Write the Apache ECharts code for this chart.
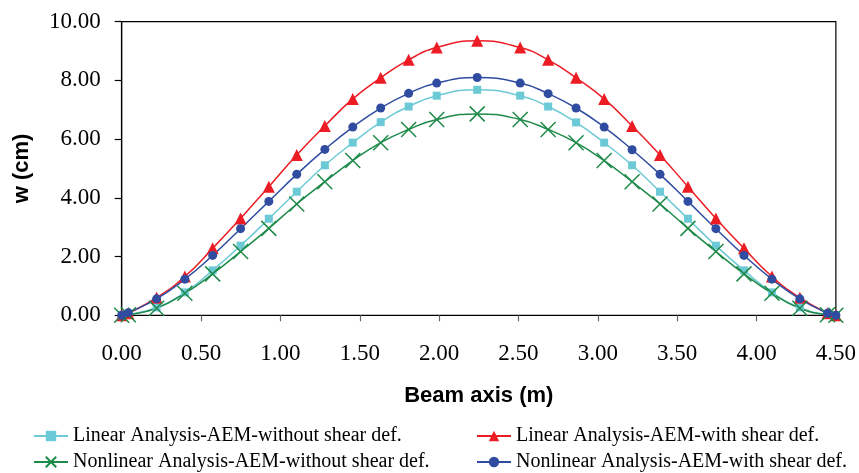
<!DOCTYPE html>
<html>
<head>
<meta charset="utf-8">
<script src="https://cdn.jsdelivr.net/npm/echarts@6/dist/echarts.min.js"></script>
<style>
html,body{margin:0;padding:0;background:#fff;}
#chart{width:859px;height:473px;}
</style>
</head>
<body>
<div id="chart"></div>
<script>
// Beam axis positions (m)
var beamX = [0, 0.042, 0.22, 0.398, 0.573, 0.749, 0.927, 1.103, 1.28, 1.456, 1.632, 1.808, 1.985, 2.24,
  2.511, 2.687, 2.863, 3.04, 3.216, 3.392, 3.568, 3.744, 3.921, 4.097, 4.273, 4.447, 4.5];

var linearWithout = [0, 0.02, 0.27, 0.78, 1.53, 2.37, 3.29, 4.21, 5.11, 5.88, 6.58, 7.11, 7.48, 7.68,
  7.48, 7.11, 6.57, 5.88, 5.11, 4.21, 3.29, 2.37, 1.53, 0.78, 0.27, 0.02, 0];
var linearWith = [0, 0.07, 0.60, 1.32, 2.28, 3.30, 4.38, 5.46, 6.45, 7.37, 8.09, 8.70, 9.12, 9.35,
  9.12, 8.70, 8.09, 7.37, 6.45, 5.46, 4.38, 3.30, 2.28, 1.32, 0.60, 0.07, 0];
var nonlinearWithout = [0, 0.02, 0.24, 0.75, 1.41, 2.17, 2.96, 3.79, 4.55, 5.27, 5.88, 6.33, 6.67, 6.86,
  6.67, 6.33, 5.88, 5.27, 4.55, 3.79, 2.96, 2.17, 1.41, 0.75, 0.24, 0.02, 0];
var nonlinearWith = [0, 0.09, 0.56, 1.23, 2.04, 2.95, 3.88, 4.80, 5.65, 6.41, 7.06, 7.56, 7.91, 8.10,
  7.91, 7.55, 7.06, 6.41, 5.64, 4.80, 3.88, 2.95, 2.04, 1.23, 0.56, 0.07, 0];

var seriesNames = [
  'Linear Analysis-AEM-without shear def.',
  'Linear Analysis-AEM-with shear def.',
  'Nonlinear Analysis-AEM-without shear def.',
  'Nonlinear Analysis-AEM-with shear def.'
];
var yTicks = [0, 2, 4, 6, 8, 10];
var xTicks = [0, 0.5, 1, 1.5, 2, 2.5, 3, 3.5, 4, 4.5];

function pairs(ys){ return beamX.map(function(x,i){ return [x, ys[i]]; }); }

var SERIF = "'Liberation Serif', 'Times New Roman', serif";
var SANS = "'Liberation Sans', Arial, sans-serif";
var cCyan = '#6CCAD6', cRed = '#EC1C24', cGreen = '#1E8A4A', cBlue = '#2F4CA0';
var xPath = 'path://M0,0L10,10M10,0L0,10';

var legendText = {fontFamily: SERIF, fontSize: 20, color: '#000'};
function legend(name, left, top){
  return {data: [name], left: left, top: top, itemWidth: 34, itemHeight: 13, itemGap: 0,
    padding: 0, textStyle: legendText, selectedMode: false};
}

var chart = echarts.init(document.getElementById('chart'));
chart.setOption({
  animation: false,
  backgroundColor: '#fff',
  grid: {left: 121.7, right: 23, top: 21.7, bottom: 157.7, show: true, borderColor: '#000', borderWidth: 1.2, backgroundColor: 'transparent'},
  xAxis: {
    type: 'value', min: 0, max: 4.5, interval: 0.5,
    name: 'Beam axis (m)', nameLocation: 'middle', nameGap: 70,
    nameTextStyle: {fontFamily: SANS, fontWeight: 'bold', fontSize: 22, color: '#000'},
    axisLine: {show: true, onZero: false, lineStyle: {color: '#000', width: 1.2}},
    axisTick: {show: true, length: 6, lineStyle: {color: '#666', width: 1.2}},
    axisLabel: {margin: 27, fontFamily: SERIF, fontSize: 23, color: '#000',
      formatter: function(v){ return v.toFixed(2); }},
    splitLine: {show: false}
  },
  yAxis: {
    type: 'value', min: 0, max: 10, interval: 2,
    name: 'w (cm)', nameLocation: 'middle', nameGap: 89,
    nameTextStyle: {fontFamily: SANS, fontWeight: 'bold', fontSize: 22, color: '#000'},
    axisLine: {show: true, lineStyle: {color: '#000', width: 1.2}},
    axisTick: {show: true, length: 7, lineStyle: {color: '#000', width: 1.2}},
    axisLabel: {margin: 21, fontFamily: SERIF, fontSize: 23, color: '#000',
      formatter: function(v){ return v.toFixed(2); }},
    splitLine: {show: false}
  },
  legend: [
    legend(seriesNames[0], 33, 426),
    legend(seriesNames[1], 476, 426),
    legend(seriesNames[2], 33, 452),
    legend(seriesNames[3], 476, 452)
  ],
  series: [
    {name: seriesNames[0], type: 'line', data: pairs(linearWithout), smooth: true,
     symbol: 'rect', symbolSize: 8, lineStyle: {color: cCyan, width: 1.5},
     itemStyle: {color: cCyan}},
    {name: seriesNames[1], type: 'line', data: pairs(linearWith), smooth: true,
     symbol: 'triangle', symbolSize: 12, lineStyle: {color: cRed, width: 1.5},
     itemStyle: {color: cRed}},
    {name: seriesNames[2], type: 'line', data: pairs(nonlinearWithout), smooth: true,
     symbol: xPath, symbolSize: 15, lineStyle: {color: cGreen, width: 1.5},
     itemStyle: {color: 'rgba(0,0,0,0)', borderColor: cGreen, borderWidth: 1.5}},
    {name: seriesNames[3], type: 'line', data: pairs(nonlinearWith), smooth: true,
     symbol: 'circle', symbolSize: 9, lineStyle: {color: cBlue, width: 1.5},
     itemStyle: {color: cBlue}}
  ]
});
</script>
</body>
</html>
